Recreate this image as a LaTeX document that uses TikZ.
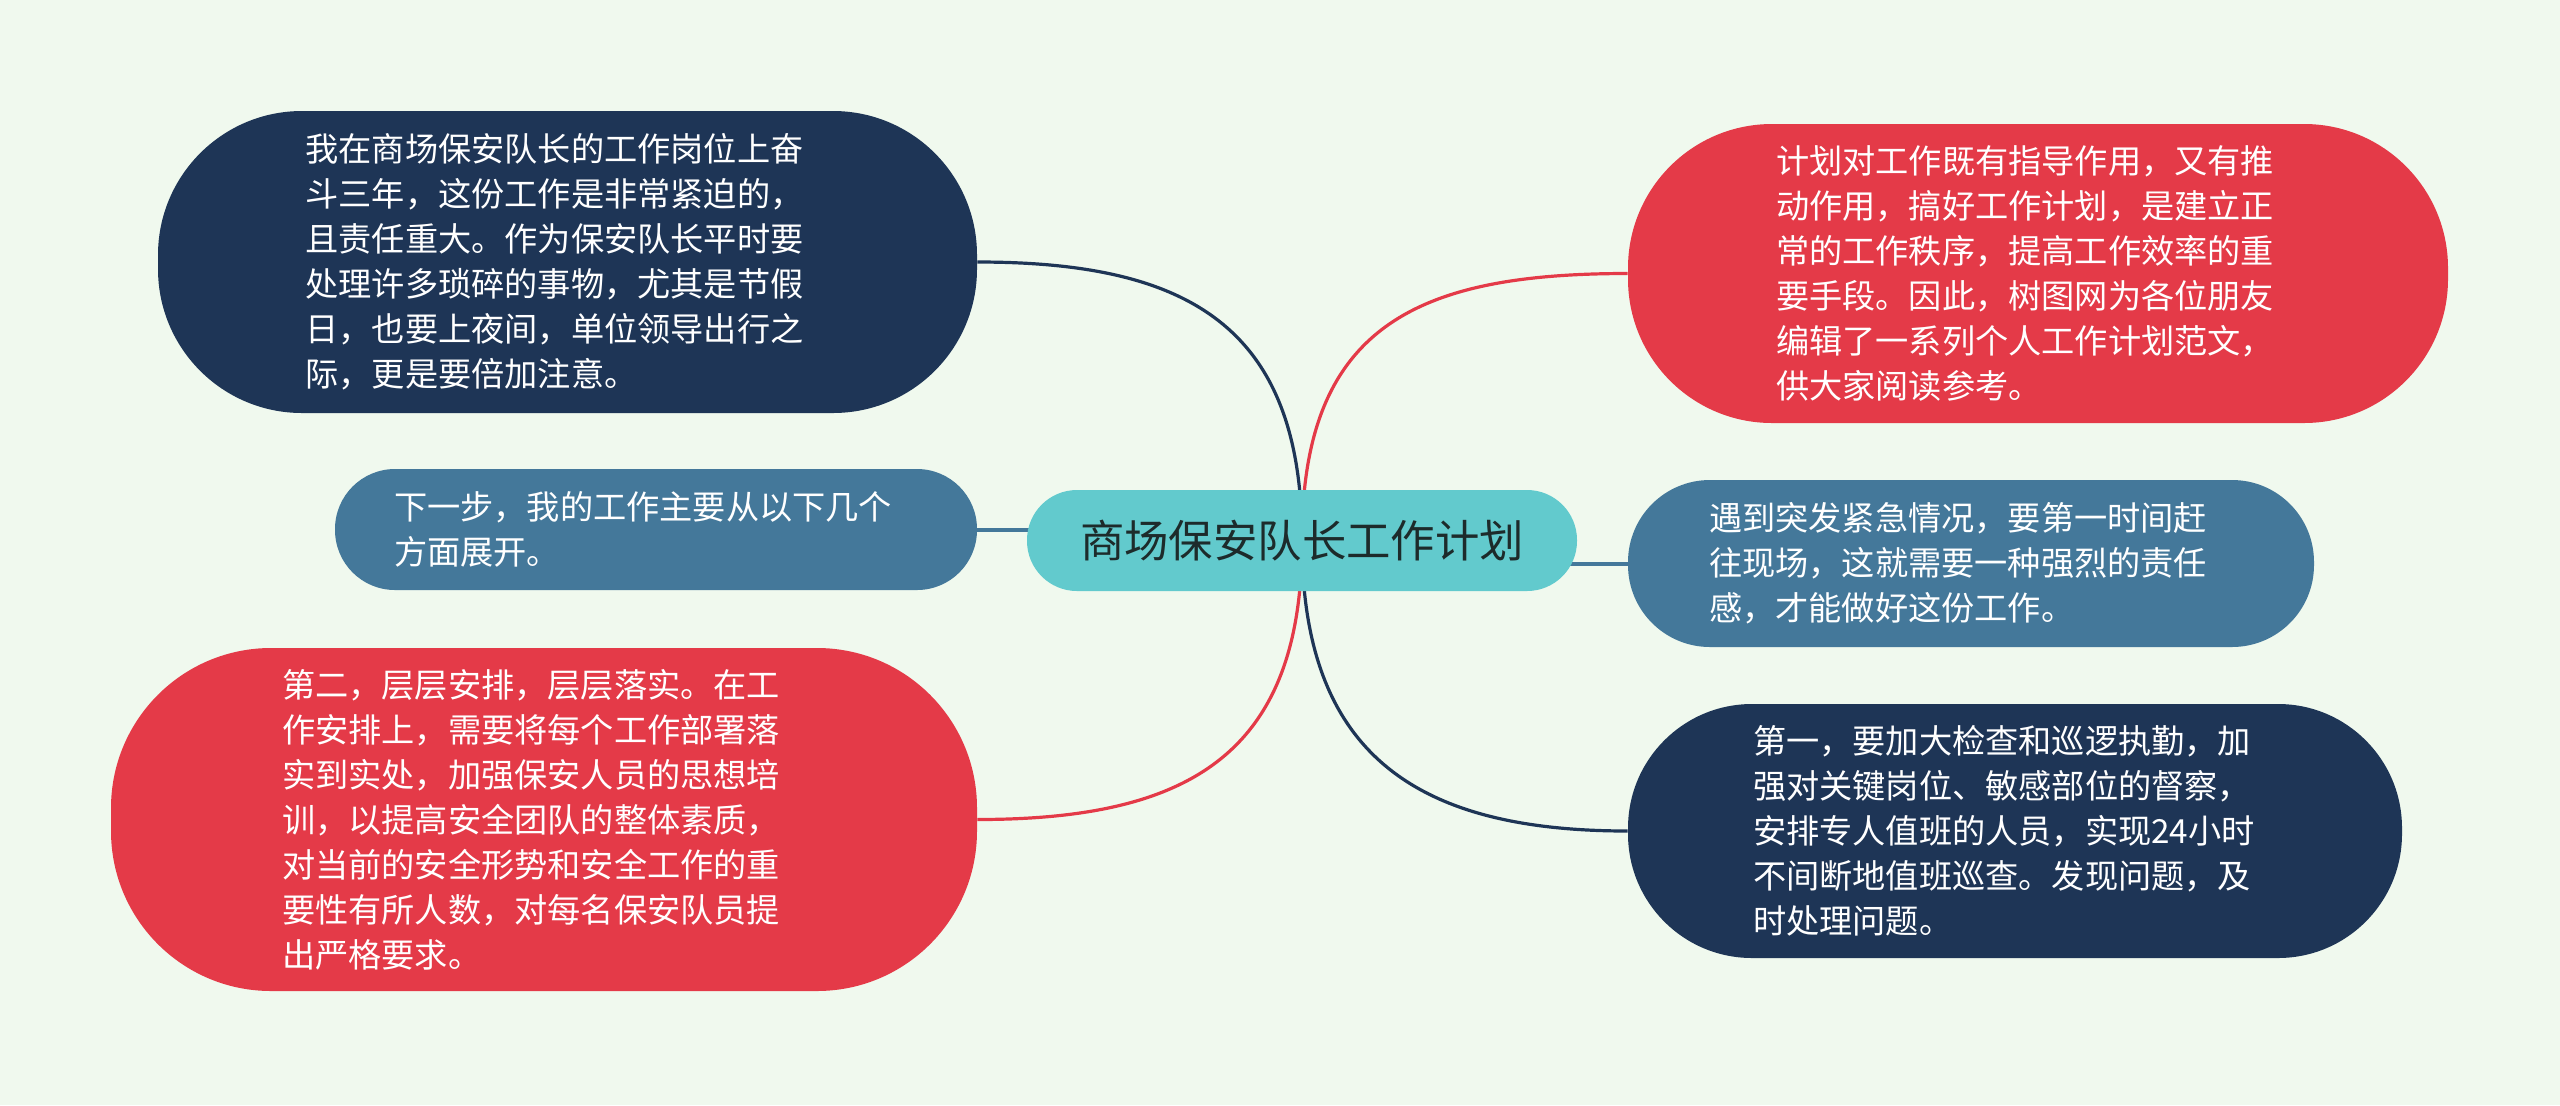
\documentclass[tikz,border=0pt]{standalone}
\usepackage{fontspec}
\newfontfamily\cjk{Noto Sans CJK SC}
\usetikzlibrary{calc}
\pgfdeclarelayer{bglayer}
\pgfdeclarelayer{linelayer}
\pgfsetlayers{bglayer,linelayer,main}
\definecolor{bgc}{HTML}{F0F9EE}
\definecolor{navyc}{HTML}{1E3556}
\definecolor{redc}{HTML}{E43A48}
\definecolor{steelc}{HTML}{44789A}
\definecolor{tealc}{HTML}{62CACD}
\definecolor{darktxt}{HTML}{1D2B2B}
\tikzset{
  box/.style={rectangle, inner sep=0pt, align=left, text=white, text width=262pt,
    font=\cjk\fontsize{16.6pt}{22.5pt}\selectfont},
  rootbox/.style={rectangle, inner sep=0pt, fill=tealc, text=darktxt,
    rounded corners=25pt, minimum width=275pt, minimum height=50.5pt,
    font=\cjk\fontsize{22.2pt}{26pt}\selectfont},
  curveline/.style={line width=1.6pt},
  midline/.style={line width=2pt, draw=steelc}
}
\begin{document}
\begin{tikzpicture}[x=0.5pt, y=-0.5pt]
\begin{pgfonlayer}{bglayer}
\fill[bgc] (0,0) rectangle (2560,1105);
\end{pgfonlayer}
\useasboundingbox (0,0) rectangle (2560,1105);

\node[rootbox] (root) at (1302,540.5) {商场保安队长工作计划};

\node[box, fill=navyc, rounded corners=72pt, minimum width=409.5pt, minimum height=151pt] (tl) at (567.5,262)
{我在商场保安队长的工作岗位上奋\\斗三年，这份工作是非常紧迫的，\\且责任重大。作为保安队长平时要\\处理许多琐碎的事物，尤其是节假\\日，也要上夜间，单位领导出行之\\际，更是要倍加注意。};

\node[box, fill=redc, rounded corners=72pt, minimum width=410pt, minimum height=149.5pt] (tr) at (2038,273.5)
{计划对工作既有指导作用，又有推\\动作用，搞好工作计划，是建立正\\常的工作秩序，提高工作效率的重\\要手段。因此，树图网为各位朋友\\编辑了一系列个人工作计划范文，\\供大家阅读参考。};

\node[box, fill=steelc, rounded corners=30pt, minimum width=321pt, minimum height=60.5pt] (lm) at (656,529.5)
{下一步，我的工作主要从以下几个\\方面展开。};

\node[box, fill=steelc, rounded corners=41pt, minimum width=343pt, minimum height=83.5pt] (rm) at (1971,563.5)
{遇到突发紧急情况，要第一时间赶\\往现场，这就需要一种强烈的责任\\感，才能做好这份工作。};

\node[box, fill=redc, rounded corners=80pt, minimum width=433pt, minimum height=171.5pt] (bl) at (544,819.5)
{第二，层层安排，层层落实。在工\\作安排上，需要将每个工作部署落\\实到实处，加强保安人员的思想培\\训，以提高安全团队的整体素质，\\对当前的安全形势和安全工作的重\\要性有所人数，对每名保安队员提\\出严格要求。};

\node[box, fill=navyc, rounded corners=62pt, minimum width=387pt, minimum height=127pt] (br) at (2015,831)
{第一，要加大检查和巡逻执勤，加\\强对关键岗位、敏感部位的督察，\\安排专人值班的人员，实现24小时\\不间断地值班巡查。发现问题，及\\时处理问题。};

\begin{pgfonlayer}{linelayer}
\draw[curveline, navyc] (root.center) .. controls ($(root.center)+(0,-215)$) and ($(tl.east)+(210,0)$) .. (tl.east);
\draw[curveline, redc] (root.center) .. controls ($(root.center)+(0,-215)$) and ($(tr.west)+(-210,0)$) .. (tr.west);
\draw[curveline, redc] (root.center) .. controls ($(root.center)+(0,215)$) and ($(bl.east)+(210,0)$) .. (bl.east);
\draw[curveline, navyc] (root.center) .. controls ($(root.center)+(0,215)$) and ($(br.west)+(-210,0)$) .. (br.west);
\draw[midline] (lm.east) -- (lm.east -| root.center);
\draw[midline] (rm.west) -- (rm.west -| root.center);
\end{pgfonlayer}
\end{tikzpicture}
\end{document}
